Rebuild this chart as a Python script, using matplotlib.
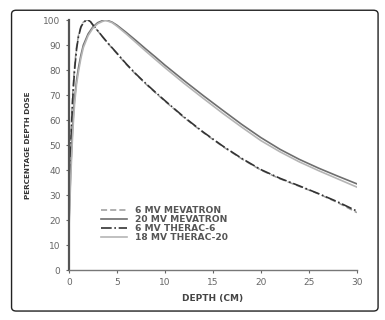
import matplotlib
matplotlib.use("Agg")
import matplotlib.pyplot as plt
from matplotlib.patches import FancyBboxPatch

# depth (cm) and percentage depth dose
depth_6 = [0, 0.1, 0.2, 0.3, 0.4, 0.5, 0.6, 0.8, 1, 1.25, 1.5, 1.75, 2, 2.25,
           2.5, 3, 3.5, 4, 5, 6, 7, 8, 9, 10, 12, 14, 16, 18, 20, 22, 24, 26,
           28, 30]
mevatron_6 = [26, 41, 53, 63, 71, 77, 82, 89.5, 94, 97.5, 99.2, 99.9, 100,
              99.3, 98, 95.7, 93.3, 91, 86.6, 82.2, 78.2, 74.5, 71, 67.6, 61,
              55, 49.5, 44.5, 40, 36.5, 33.5, 30.5, 27, 23]
therac_6 = [24, 38, 50, 60, 68.5, 75, 80.5, 88.5, 93.5, 97.2, 99, 99.8, 100,
            99.4, 98.1, 95.8, 93.4, 91.1, 86.8, 82.4, 78.4, 74.7, 71.2, 67.8,
            61.2, 55.2, 49.7, 44.7, 40.2, 36.7, 33.7, 30.6, 27.3, 23.6]

depth_20 = [0, 0.1, 0.2, 0.3, 0.4, 0.5, 0.6, 0.8, 1, 1.25, 1.5, 2, 2.5, 3,
            3.5, 3.75, 4, 4.5, 5, 6, 7, 8, 9, 10, 12, 14, 16, 18, 20, 22, 24,
            26, 28, 30]
mevatron_20 = [18, 30, 41, 50, 58, 64, 69, 76, 81, 86, 90, 94.5, 97.3, 99,
               99.8, 100, 99.9, 99.2, 98, 95, 91.8, 88.5, 85.3, 82, 75.8, 69.8,
               64, 58.3, 53, 48.3, 44.3, 40.8, 37.6, 34.5]
therac_20 = [16, 27, 38, 47, 55, 61.5, 67, 74.5, 79.5, 84.8, 89, 93.8, 96.8,
             98.6, 99.5, 99.8, 99.7, 99, 97.6, 94.4, 91, 87.6, 84.3, 81,
             74.7, 68.7, 62.8, 57.2, 51.8, 47.3, 43.3, 39.8, 36.5, 33.2]

legend_labels = ["6 MV MEVATRON", "20 MV MEVATRON", "6 MV THERAC-6",
                 "18 MV THERAC-20"]

fig = plt.figure(figsize=(3.85, 3.2), dpi=100)
frame = FancyBboxPatch((0.03, 0.028), 0.952, 0.94,
                       boxstyle="round,pad=0,rounding_size=0.012",
                       transform=fig.transFigure, facecolor="white",
                       edgecolor="#222222", linewidth=1.0, zorder=-5)
fig.patches.append(frame)

ax = fig.add_axes([0.179, 0.156, 0.748, 0.781])
ax.set_zorder(2)
ax.plot(depth_6, mevatron_6, color="#9a9a9a", linestyle=(0, (4, 2)),
        linewidth=1.1, label=legend_labels[0])
ax.plot(depth_20, mevatron_20, color="#6e6e6e", linestyle="-",
        linewidth=1.2, label=legend_labels[1])
ax.plot(depth_6, therac_6, color="#333333", linestyle="-.",
        linewidth=1.2, label=legend_labels[2])
ax.plot(depth_20, therac_20, color="#b5b5b5", linestyle="-",
        linewidth=1.2, label=legend_labels[3])

ax.set_xlim(0, 30)
ax.set_ylim(0, 100)
ax.set_xticks(range(0, 31, 5))
ax.set_yticks(range(0, 101, 10))
for side in ["top", "right"]:
    ax.spines[side].set_visible(False)
ax.spines["left"].set_linewidth(1.6)
ax.spines["left"].set_color("#555555")
ax.spines["bottom"].set_linewidth(1.0)
ax.spines["bottom"].set_color("#777777")
ax.tick_params(labelsize=6.5, colors="#666666", length=2.5, width=0.8)
ax.set_xlabel("DEPTH (CM)", fontsize=6.5, fontweight="bold", color="#444444",
              labelpad=5)
ax.set_ylabel("PERCENTAGE DEPTH DOSE", fontsize=5.2, fontweight="bold",
              color="#333333", labelpad=9)
ax.patch.set_alpha(0)

ax.legend(loc="lower left", bbox_to_anchor=(0.095, 0.095), frameon=False,
          prop={"size": 6.6, "weight": "bold"}, labelcolor="#555555",
          handlelength=2.8, labelspacing=0.0, borderpad=0, handletextpad=0.9)

fig.savefig("out.png", dpi=100)
